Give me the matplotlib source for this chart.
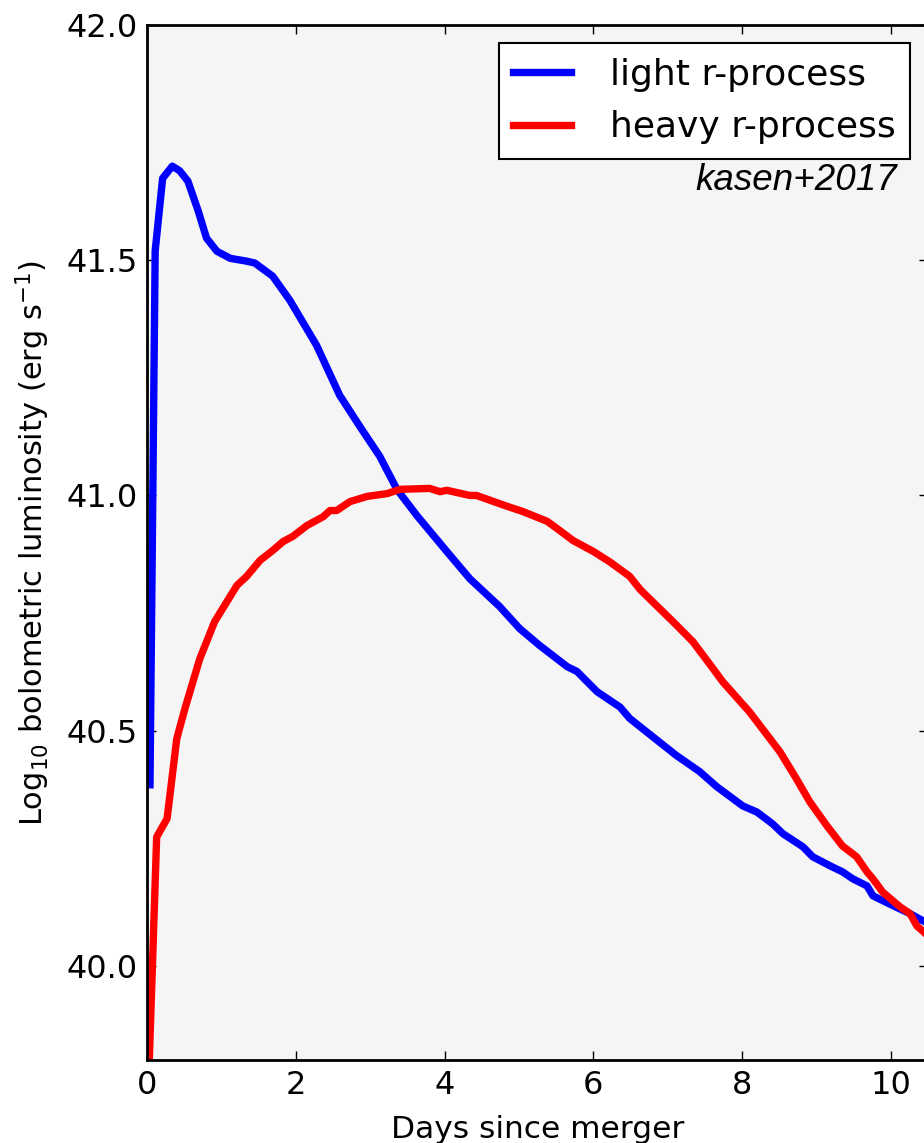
import matplotlib
matplotlib.use("Agg")
import matplotlib.pyplot as plt

# Light (blue) r-process light curve: days since merger, log10 L_bol
light_t = [0.04, 0.11, 0.21, 0.34, 0.44, 0.55, 0.69, 0.80, 0.94, 1.12,
           1.34, 1.45, 1.69, 1.92, 2.28, 2.59, 2.86, 3.13, 3.36, 3.63,
           4.03, 4.34, 4.74, 5.01, 5.28, 5.65, 5.78, 6.05, 6.36, 6.49,
           6.80, 7.12, 7.43, 7.66, 8.01, 8.20, 8.41, 8.55, 8.82, 8.95,
           9.18, 9.35, 9.49, 9.68, 9.76, 10.03, 10.26, 10.43, 10.60]
light_logL = [40.385, 41.520, 41.674, 41.700, 41.690, 41.668, 41.604, 41.547, 41.519, 41.504,
              41.498, 41.494, 41.466, 41.415, 41.319, 41.213, 41.147, 41.083, 41.013, 40.957,
              40.881, 40.823, 40.764, 40.717, 40.681, 40.636, 40.626, 40.583, 40.550, 40.526,
              40.487, 40.447, 40.413, 40.381, 40.340, 40.327, 40.302, 40.281, 40.253, 40.232,
              40.213, 40.200, 40.185, 40.170, 40.149, 40.128, 40.111, 40.096, 40.083]

# Heavy (red) r-process light curve
heavy_t = [0.01, 0.13, 0.27, 0.40, 0.51, 0.71, 0.91, 1.21, 1.34, 1.52,
           1.69, 1.83, 1.96, 2.15, 2.37, 2.46, 2.55, 2.73, 2.96, 3.23,
           3.40, 3.80, 3.94, 4.03, 4.34, 4.43, 4.84, 5.05, 5.38, 5.51,
           5.73, 6.00, 6.22, 6.49, 6.63, 7.07, 7.34, 7.61, 7.74, 8.10,
           8.24, 8.51, 8.73, 8.91, 9.14, 9.35, 9.54, 9.68, 9.76, 9.89,
           10.12, 10.26, 10.35, 10.43, 10.60]
heavy_logL = [39.700, 40.274, 40.313, 40.483, 40.547, 40.653, 40.732, 40.809, 40.828, 40.862,
              40.883, 40.902, 40.913, 40.936, 40.955, 40.968, 40.968, 40.987, 40.998, 41.004,
              41.013, 41.015, 41.008, 41.011, 41.000, 41.000, 40.977, 40.966, 40.945, 40.930,
              40.904, 40.881, 40.859, 40.828, 40.800, 40.732, 40.689, 40.632, 40.604, 40.540,
              40.511, 40.455, 40.398, 40.349, 40.298, 40.255, 40.232, 40.200, 40.185, 40.157,
              40.126, 40.111, 40.085, 40.074, 40.050]

series_labels = ["light r-process", "heavy r-process"]
x_ticks = [0, 2, 4, 6, 8, 10]
y_ticks = [40.0, 40.5, 41.0, 41.5, 42.0]

W, H = 924, 1143
fig = plt.figure(figsize=(W / 100, H / 100), dpi=100)
fig.patch.set_facecolor("white")

# axes box in pixels: left 147, right 928 (runs just past the canvas), top 25, bottom 1060
ax = fig.add_axes([147 / W, (H - 1060) / H, (928 - 147) / W, (1060 - 25) / H])
ax.set_facecolor("#f5f5f5")

ax.plot(light_t, light_logL, color="blue", lw=5.3, label=series_labels[0])
ax.plot(heavy_t, heavy_logL, color="red", lw=5.3, label=series_labels[1])

ax.set_xlim(0, 10.5)
ax.set_ylim(39.8, 42.0)
ax.set_xticks(x_ticks)
ax.set_yticks(y_ticks)
ax.set_yticklabels([f"{v:.1f}" for v in y_ticks])

for s in ax.spines.values():
    s.set_linewidth(2.0)
    s.set_color("black")

ax.tick_params(direction="in", top=True, right=True, length=6.5, width=1.0,
               labelsize=23, pad=7, colors="black")

ax.set_xlabel("Days since merger", fontsize=22.5, labelpad=10)
ax.set_ylabel(r"Log$_{10}$ bolometric luminosity (erg s$^{-1}$)", fontsize=22, labelpad=10)

leg = ax.legend(loc="upper right", fontsize=26, frameon=True, fancybox=False,
                handlelength=1.6, handletextpad=1.08, borderpad=0.4,
                labelspacing=0.52, borderaxespad=0.5)
leg.get_frame().set_edgecolor("black")
leg.get_frame().set_facecolor("white")
leg.get_frame().set_linewidth(1.5)
leg.get_frame().set_alpha(1.0)

ax.text((897 - 147) / 781, (1060 - 190) / 1035, "kasen+2017", transform=ax.transAxes,
        ha="right", va="baseline", fontsize=26.5, style="italic",
        family=["Liberation Sans", "DejaVu Sans"])

fig.savefig("out.png", dpi=100)
